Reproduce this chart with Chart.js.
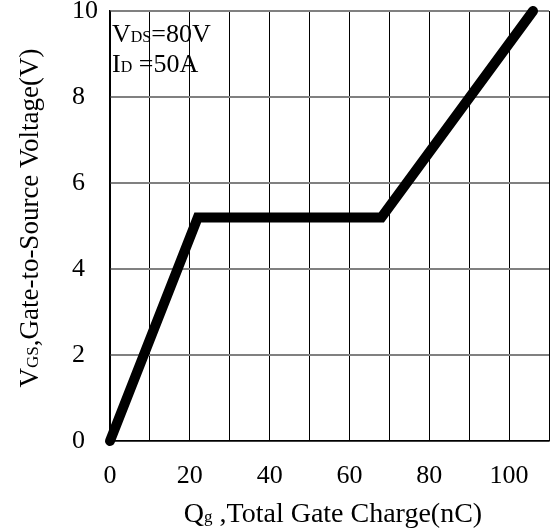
<!DOCTYPE html>
<html>
<head>
<meta charset="utf-8">
<script src="https://cdn.jsdelivr.net/npm/chart.js@4"></script>
<style>
  html, body { margin: 0; padding: 0; background: #fff; }
  #wrap { width: 553px; height: 529px; }
</style>
</head>
<body>
<div id="wrap"><canvas id="gateChart" width="553" height="529"></canvas></div>
<script>
// gate charge curve
var chargeQg = [0, 22, 68, 106];        // nC
var voltsVgs = [0, 5.2, 5.2, 10];       // V
var xTickLabels = ['0', '20', '40', '60', '80', '100'];
var yTickLabels = ['0', '2', '4', '6', '8', '10'];

var FONT = '"Liberation Serif", "Times New Roman", serif';

// draws text made of [text, isSubscript] parts
function drawParts(ctx, parts, x, y, size) {
    var cx = x;
    parts.forEach(function(p) {
        var sz = p[1] ? Math.round(size * 0.62) : size;
        ctx.font = sz + 'px ' + FONT;
        ctx.fillText(p[0], cx, y);
        cx += ctx.measureText(p[0]).width;
    });
    return cx - x;
}
function partsWidth(ctx, parts, size) {
    var w = 0;
    parts.forEach(function(p) {
        var sz = p[1] ? Math.round(size * 0.62) : size;
        ctx.font = sz + 'px ' + FONT;
        w += ctx.measureText(p[0]).width;
    });
    return w;
}

var labelsPlugin = {
    id: 'labelsPlugin',
    afterDraw: function(chart) {
        var ctx = chart.ctx;
        var area = chart.chartArea;
        ctx.save();
        ctx.fillStyle = '#000';
        ctx.textBaseline = 'alphabetic';
        ctx.textAlign = 'left';

        // condition note in top-left corner
        drawParts(ctx, [['V', false], ['DS', true], ['=80V', false]], area.left + 2, area.top + 31, 26);
        drawParts(ctx, [['I', false], ['D', true], [' =50A', false]], area.left + 2, area.top + 61, 26);

        // x axis title
        var xParts = [['Q', false], ['g', true], [' ,Total Gate Charge(nC)', false]];
        var xw = partsWidth(ctx, xParts, 28);
        drawParts(ctx, xParts, 333 - xw / 2, 522, 28);

        // y axis title, rotated
        var yParts = [['V', false], ['GS', true], [',Gate-to-Source Voltage(V)', false]];
        var yw = partsWidth(ctx, yParts, 27);
        ctx.translate(38, 218);
        ctx.rotate(-Math.PI / 2);
        drawParts(ctx, yParts, -yw / 2, 0, 27);
        ctx.restore();
    }
};

new Chart(document.getElementById('gateChart').getContext('2d'), {
    type: 'scatter',
    data: {
        datasets: [{
            data: chargeQg.map(function(q, i) { return { x: q, y: voltsVgs[i] }; }),
            showLine: true,
            borderColor: '#000',
            borderWidth: 10,
            borderCapStyle: 'round',
            borderJoinStyle: 'miter',
            pointRadius: 0,
            tension: 0,
            clip: false
        }]
    },
    options: {
        responsive: false,
        animation: false,
        events: [],
        layout: { padding: { left: 72, top: 11, right: 4, bottom: 0 } },
        plugins: {
            legend: { display: false },
            tooltip: { enabled: false }
        },
        scales: {
            x: {
                type: 'linear',
                min: 0,
                max: 110,
                afterFit: function(s) {
                    s.height = 88;
                    s.paddingLeft = 0;
                    s.paddingRight = 0;
                },
                ticks: {
                    stepSize: 10,
                    padding: 20,
                    color: '#000',
                    font: { family: FONT, size: 26 },
                    maxRotation: 0,
                    autoSkip: false,
                    callback: function(v) {
                        var i = xTickLabels.indexOf(String(v));
                        return i >= 0 ? xTickLabels[i] : '';
                    }
                },
                grid: { color: '#000', lineWidth: 1, drawTicks: false },
                border: { color: '#000', width: 1.5 }
            },
            y: {
                min: 0,
                max: 10,
                afterFit: function(s) {
                    s.width = 38;
                    s.paddingTop = 0;
                    s.paddingBottom = 0;
                },
                ticks: {
                    stepSize: 2,
                    padding: 14,
                    crossAlign: 'far',
                    color: '#000',
                    font: { family: FONT, size: 26 },
                    callback: function(v) {
                        var i = yTickLabels.indexOf(String(v));
                        return i >= 0 ? yTickLabels[i] : '';
                    }
                },
                grid: { color: '#808080', lineWidth: 2, drawTicks: false },
                border: { color: '#000', width: 1.5 }
            }
        }
    },
    plugins: [labelsPlugin]
});
</script>
</body>
</html>
